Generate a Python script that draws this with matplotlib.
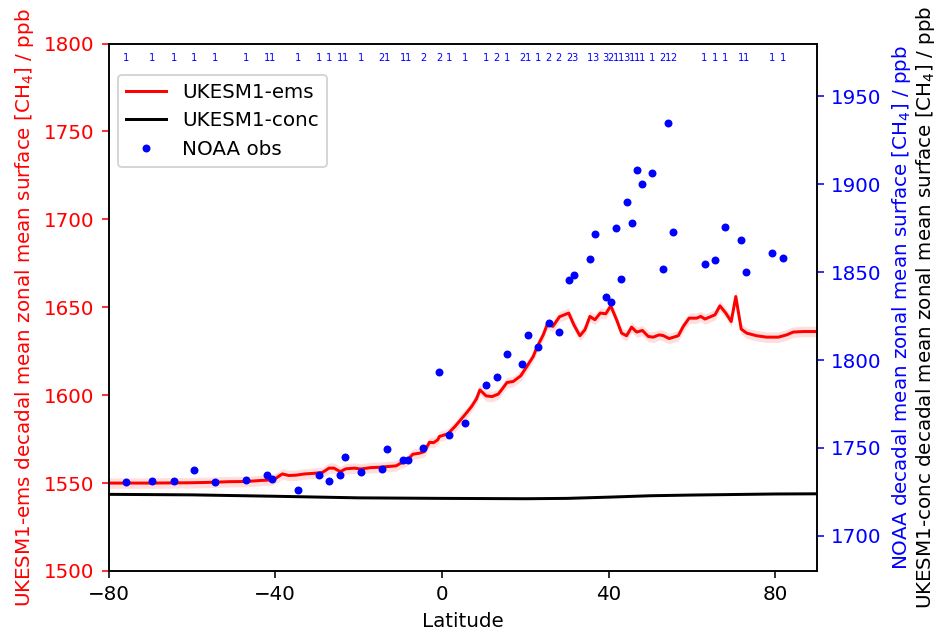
#!/usr/bin/env python3
"""
Zonal mean surface CH4: UKESM1 (emission-driven / concentration-driven)
against NOAA station observations, decadal means.

Output: out.png
"""

import matplotlib
matplotlib.use("Agg")
import matplotlib.pyplot as plt
from matplotlib.lines import Line2D

# ── UKESM1-ems zonal mean (left axis, ppb) ───────────────────────────────────
ems_lat = [
    -80, -70, -60, -56, -51, -47, -44, -41, -40, -38.3, -36.7, -35, -33, -31,
    -28.7, -27.1, -25.9, -24.4, -23.1, -21, -19.5, -17.1, -15, -13, -11, -9.9,
    -9, -8.2, -7, -5.4, -4.2, -3.0, -2.0, -1.0, -0.6, 1.4, 3.1, 5.5, 7.1, 8.3,
    9.1, 10.6, 12.0, 13.5, 14.3, 15.6, 17.1, 18.9, 20.5, 21.9, 22.7, 24.3,
    25.3, 26.6, 28.2, 30.4, 31.7, 33.1, 34.3, 35.5, 36.7, 38.0, 39.3, 40.5,
    41.9, 43.1, 44.3, 45.5, 46.7, 48.1, 49.5, 50.7, 52.1, 53.1, 54.5, 56.7,
    57.9, 59.3, 61.1, 62.1, 63.1, 65.5, 66.7, 68.1, 69.4, 70.5, 71.8, 73.1,
    75.5, 77.9, 80.7, 82.7, 84.3, 86.7, 90,
]
ems_ch4 = [
    1550.0, 1550.0, 1550.2, 1550.4, 1550.8, 1550.9, 1551.4, 1551.8, 1552.5,
    1555.2, 1554.3, 1554.5, 1555.2, 1555.5, 1556.0, 1558.5, 1558.5, 1556.5,
    1558.1, 1558.5, 1558.0, 1558.8, 1559.0, 1559.4, 1559.8, 1561.3, 1561.8,
    1563.2, 1566.4, 1567.0, 1567.9, 1573.2, 1573.0, 1574.6, 1576.5, 1578.0,
    1582.1, 1588.8, 1593.5, 1598.0, 1603.0, 1599.6, 1599.2, 1600.6, 1603.0,
    1607.2, 1607.8, 1611.0, 1616.8, 1622.0, 1626.8, 1634.3, 1640.5, 1639.1,
    1644.6, 1646.7, 1639.8, 1633.8, 1637.2, 1644.8, 1642.9, 1646.7, 1646.3,
    1650.8, 1642.9, 1635.3, 1633.8, 1638.7, 1635.9, 1636.8, 1633.4, 1633.0,
    1634.3, 1633.9, 1632.2, 1633.8, 1639.1, 1643.8, 1643.8, 1644.8, 1643.3,
    1645.7, 1650.8, 1646.7, 1641.9, 1656.1, 1637.6, 1635.3, 1633.8, 1633.0,
    1633.0, 1634.3, 1635.9, 1636.2, 1636.2,
]
ems_spread = 3.0  # ppb, interannual std of the decadal mean

# ── UKESM1-conc zonal mean (right axis, ppb) ─────────────────────────────────
conc_lat = [-80, -60, -40, -20, 0, 20, 30, 40, 50, 60, 70, 80, 90]
conc_ch4 = [1723.6, 1723.3, 1722.5, 1721.6, 1721.3, 1721.1, 1721.3,
            1722.0, 1722.8, 1723.2, 1723.5, 1723.8, 1723.9]

# ── NOAA station means (right axis, ppb) and station counts ─────────────────
noaa_lat = [
    -75.8, -69.5, -64.3, -59.5, -54.5, -47.0, -41.9, -40.7, -34.5, -29.5,
    -27.0, -24.5, -23.2, -19.5, -14.4, -13.2, -9.4, -8.2, -4.5, -0.7, 1.8,
    5.6, 10.5, 13.1, 15.5, 19.3, 20.6, 23.1, 25.6, 28.0, 30.6, 31.8, 35.6,
    36.8, 39.3, 40.5, 41.8, 43.0, 44.3, 45.5, 46.8, 48.0, 50.5, 53.0, 54.3,
    55.5, 63.0, 65.5, 68.0, 71.8, 73.0, 79.3, 81.8,
]
noaa_ch4 = [
    1730.7, 1731.2, 1731.4, 1737.3, 1730.7, 1731.6, 1734.6, 1732.2, 1725.9,
    1734.5, 1731.4, 1734.5, 1745.1, 1736.2, 1737.9, 1749.3, 1742.9, 1742.9,
    1749.8, 1793.0, 1757.2, 1764.4, 1785.9, 1790.4, 1803.2, 1797.8, 1814.3,
    1807.3, 1821.3, 1815.9, 1845.5, 1848.1, 1857.2, 1871.7, 1836.0, 1833.0,
    1875.3, 1846.2, 1890.1, 1877.7, 1908.3, 1899.9, 1906.6, 1851.7, 1934.6,
    1872.6, 1854.8, 1856.9, 1875.4, 1868.3, 1850.2, 1860.9, 1858.3,
]
noaa_nstations = [
    1, 1, 1, 1, 1, 1, 1, 1, 1, 1, 1, 1, 1, 1, 2, 1, 1, 1, 2, 2, 1, 1, 1, 2,
    1, 2, 1, 1, 2, 2, 2, 3, 1, 3, 3, 2, 1, 1, 3, 1, 1, 1, 1, 2, 1, 2, 1, 1,
    1, 1, 1, 1, 1,
]

DPI = 143
plt.rcParams["font.size"] = 10

fig = plt.figure(figsize=(937 / DPI, 631 / DPI), dpi=DPI)
ax = fig.add_axes([0.1158, 0.0951, 0.872 - 0.1158, 0.931 - 0.0951])
ax2 = ax.twinx()

# modello emissioni + banda di variabilità
lo = [v - ems_spread for v in ems_ch4]
hi = [v + ems_spread for v in ems_ch4]
ax.fill_between(ems_lat, lo, hi, color="red", alpha=0.13, linewidth=0)
ax.plot(ems_lat, ems_ch4, color="red", lw=1.5)

ax2.plot(conc_lat, conc_ch4, color="black", lw=1.5)
ax2.plot(noaa_lat, noaa_ch4, ".", color="blue")

# numero di stazioni per ogni punto NOAA
for lat, n in zip(noaa_lat, noaa_nstations):
    ax.text(lat, 0.973, str(n), transform=ax.get_xaxis_transform(),
            ha="center", va="center", fontsize=5, color="blue")

ax.set_xlim(-80, 90)
ax.set_xticks([-80, -40, 0, 40, 80])
ax.set_xlabel("Latitude")

ax.set_ylim(1500, 1800)
ax.set_ylabel("UKESM1-ems decadal mean zonal mean surface [CH$_4$] / ppb",
              color="red")
ax.tick_params(axis="y", colors="red")
ax.spines["left"].set_color("black")

ax2.set_ylim(1680, 1980)
ax2.set_yticks([1700, 1750, 1800, 1850, 1900, 1950])
ax2.set_ylabel("NOAA decadal mean zonal mean surface [CH$_4$] / ppb",
               color="blue")
ax2.tick_params(axis="y", colors="blue")
ax2.spines["right"].set_color("black")
ax2.text(1.153, 0.5,
         "UKESM1-conc decadal mean zonal mean surface [CH$_4$] / ppb",
         transform=ax2.transAxes, rotation=90, ha="center", va="center",
         color="black")

handles = [
    Line2D([], [], color="red", lw=1.5, label="UKESM1-ems"),
    Line2D([], [], color="black", lw=1.5, label="UKESM1-conc"),
    Line2D([], [], marker=".", ls="none", color="blue", label="NOAA obs"),
]
ax2.legend(handles=handles, loc="upper left", bbox_to_anchor=(0, 0.96))

fig.savefig("out.png", dpi=DPI)
